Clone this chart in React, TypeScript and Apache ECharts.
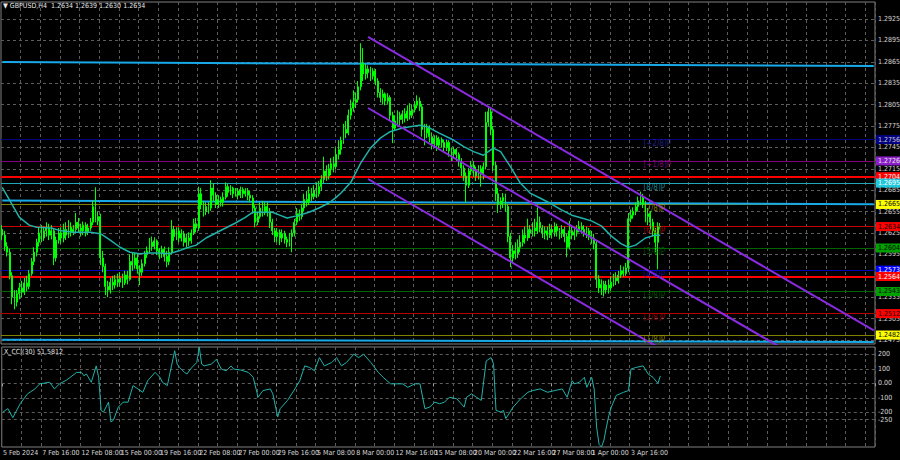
import React, { useEffect, useRef } from "react";
import * as echarts from "echarts";

// ---------- data ----------
const AXIS_SLOTS = 356;
const headerText = "\u25BC GBPUSD,H4  1.2634 1.2639 1.2630 1.2634";
const cciHeader = "X_CCI(30) 51.5812";

// H4 candles: [open, close, low, high] in pips above 1.2000
const candlePips: number[][] = [
  // Feb 5 - Feb 9
  [630,622,615,636],[622,606,600,628],[606,598,592,612],[598,565,560,603],[565,535,525,570],[535,528,518,545],
  [528,540,522,545],[540,548,532,555],[548,542,535,558],[542,555,538,562],[555,550,543,565],[550,568,546,573],
  [568,585,565,590],[585,598,580,605],[598,612,592,617],[612,625,606,632],[625,618,612,636],[618,628,614,634],
  [628,632,620,640],[632,622,615,638],[622,628,616,636],[628,590,580,632],[590,615,585,620],[615,625,610,632],
  [625,618,610,633],[618,630,612,638],[630,622,615,640],[622,633,618,643],[633,626,620,640],[626,630,622,636],
  // Feb 12 - Feb 16
  [630,640,626,653],[640,632,625,646],[632,628,620,638],[628,636,622,641],[636,627,620,640],[627,632,622,638],
  [632,640,628,646],[640,662,636,670],[662,642,640,689],[642,648,636,655],[648,590,580,652],[590,578,570,600],
  [578,550,538,582],[550,545,535,558],[545,556,540,562],[556,552,545,565],[552,560,547,566],[560,556,549,568],
  [556,562,550,570],[562,555,548,568],[555,566,552,572],[566,560,553,572],[560,585,558,595],[585,580,572,598],
  [580,590,575,597],[590,575,568,596],[575,570,552,580],[570,582,565,588],[582,595,578,600],[595,600,590,606],
  // Feb 19 - Feb 23
  [600,612,596,618],[612,606,600,620],[606,614,602,619],[614,600,594,616],[600,596,588,604],[596,602,590,607],
  [602,592,585,606],[592,585,577,600],[585,598,580,605],[598,630,595,643],[630,620,614,635],[620,628,615,633],
  [628,618,612,633],[618,624,613,630],[624,612,606,628],[612,618,605,624],[618,614,607,626],[614,625,610,630],
  [625,638,622,645],[638,632,626,646],[632,680,628,690],[680,665,658,688],[665,655,648,670],[655,662,650,668],
  [662,660,652,668],[660,688,656,699],[688,678,670,695],[678,665,660,682],[665,672,660,678],[672,668,662,676],
  // Feb 26 - Mar 1
  [668,675,662,682],[675,690,672,696],[690,682,676,694],[682,688,678,692],[688,680,674,690],[680,684,676,688],
  [684,678,672,688],[678,686,674,690],[686,680,674,689],[680,684,676,688],[684,678,671,688],[678,674,668,684],
  [674,660,652,678],[660,640,633,664],[640,648,636,655],[648,660,645,668],[660,655,648,670],[655,662,650,668],
  [662,655,648,668],[655,640,632,660],[640,628,622,645],[628,620,612,632],[620,626,612,632],[626,618,608,630],
  [618,624,612,630],[624,616,610,628],[616,612,605,620],[612,620,606,625],[620,625,598,630],[625,640,620,645],
  // Mar 4 - Mar 8
  [640,652,636,660],[652,648,642,658],[648,660,644,666],[660,672,656,680],[672,668,662,684],[668,680,664,690],
  [680,676,670,688],[676,685,672,692],[685,680,674,696],[680,690,676,698],[690,700,684,706],[700,712,695,732],
  [712,705,698,720],[705,715,700,722],[715,722,706,730],[722,718,710,732],[718,735,714,745],[735,742,728,755],
  [742,755,735,760],[755,770,750,778],[770,765,758,782],[765,790,762,798],[790,800,784,812],[800,808,795,825],
  [808,812,800,822],[812,830,808,838],[830,862,825,891],[862,848,838,884],[848,855,840,862],[855,850,842,860],
  // Mar 11 - Mar 15
  [850,845,838,858],[845,852,840,856],[852,838,832,855],[838,822,815,842],[822,815,808,828],[815,820,805,826],
  [820,810,804,822],[810,815,806,821],[815,790,782,818],[790,772,751,795],[772,782,768,790],[782,790,776,797],
  [790,784,776,795],[784,792,778,797],[792,786,780,800],[786,796,782,804],[796,790,784,807],[790,798,786,805],
  [798,804,794,810],[804,810,800,818],[810,802,796,815],[802,770,760,806],[770,765,748,778],[765,772,758,778],
  [772,760,752,776],[760,750,742,766],[750,758,744,762],[758,748,740,762],[748,756,744,760],[756,752,745,759],
  // Mar 18 - Mar 22
  [752,745,738,756],[745,752,740,756],[752,740,732,755],[740,736,726,744],[736,742,730,746],[742,735,726,744],
  [735,725,718,738],[725,716,705,730],[716,705,698,720],[705,692,668,710],[692,712,688,716],[712,720,706,726],
  [720,712,704,726],[712,705,698,718],[705,715,700,720],[715,708,690,720],[708,718,700,724],[718,780,714,795],
  [780,795,775,803],[795,770,762,800],[770,720,712,775],[720,680,670,725],[680,665,653,688],[665,670,658,675],
  [670,675,660,681],[675,662,655,680],[662,620,612,666],[620,590,577,625],[590,600,582,608],[600,596,588,612],
  // Mar 25 - Mar 29
  [596,605,590,616],[605,612,598,622],[612,622,606,630],[622,618,610,634],[618,630,614,645],[630,625,618,636],
  [625,632,620,640],[632,628,620,645],[628,640,624,661],[640,632,626,648],[632,625,618,636],[625,628,616,634],
  [628,622,615,634],[622,630,618,638],[630,626,618,636],[626,634,620,640],[634,628,620,638],[628,624,616,632],
  [624,630,618,636],[630,620,612,634],[620,605,591,624],[605,628,602,642],[628,622,616,636],[622,626,615,632],
  [626,630,620,636],[630,634,626,642],[634,630,624,640],[630,625,620,636],[625,628,618,634],[628,622,615,632],
  // Apr 1 - Apr 5
  [622,618,610,628],[618,610,602,624],[610,560,548,614],[560,548,541,566],[548,553,538,560],[553,545,536,558],
  [545,552,540,558],[552,548,540,560],[548,556,544,564],[556,562,550,568],[562,558,552,570],[558,566,554,572],
  [566,572,562,580],[572,568,564,578],[568,576,565,583],[576,645,570,653],[645,650,640,658],[650,655,645,661],
  [655,662,650,668],[662,670,656,676],[670,676,664,683],[676,665,660,680],[665,648,640,670],[648,652,636,660],
  [652,640,630,656],[640,628,620,645],[628,612,598,632],[612,634,574,640],[634,634,630,639],
];

// moving average: [bar index, pips above 1.2000]
const maPips: number[][] = [
  [0,689],[3,671],[7,647],[11,636],[14,633],[20,632],[24,628],[29,626],[36,626],[40,624],[44,615],
  [48,605],[52,598],[56,596],[60,597],[64,597],[68,596],[72,600],[75,604],[79,608],[83,618],[87,625],
  [91,632],[95,639],[99,647],[102,654],[106,654],[110,654],[113,650],[116,646],[120,649],[125,654],
  [129,660],[133,667],[136,675],[138,681],[142,696],[146,723],[150,744],[154,758],[158,767],[162,771],
  [166,774],[170,776],[173,774],[178,765],[184,755],[188,746],[192,739],[196,734],[198,739],[200,744],
  [203,739],[207,718],[211,695],[215,681],[219,674],[223,667],[228,657],[232,650],[236,646],[240,642],
  [244,635],[248,621],[252,610],[255,605],[258,608],[262,618],[266,622],[268,622],
];

// CCI(30): [bar index, value]
const cciPoints: number[][] = [
  [0,-197],[2,-174],[4,-236],[7,-140],[10,-72],[13,-38],[15,-3],[19,8],[21,-38],[23,-3],[26,24],[30,76],
  [32,76],[33,53],[34,65],[36,8],[38,121],[39,42],[40,-186],[41,-197],[43,-129],[44,-265],[45,-254],
  [47,-163],[49,-129],[51,-129],[53,-15],[55,-38],[57,-61],[59,19],[62,76],[64,42],[65,8],[67,-15],
  [68,65],[70,225],[71,133],[72,110],[74,76],[75,65],[77,110],[79,144],[80,251.0235],[81,133],[82,121],
  [85,133],[87,167],[89,99],[91,87],[93,121],[94,99],[97,92],[100,76],[102,42],[104,-95],[106,-49],
  [109,-38],[110,-72],[112,-231],[113,-174],[116,-117],[119,-38],[121,19],[123,121],[125,110],[127,87],
  [129,178],[131,121],[134,144],[136,178],[138,121],[140,144],[143,201],[145,178],[147,201],[150,144],
  [153,76],[155,42],[158,-3],[161,-3],[163,-3],[165,-27],[168,-3],[170,-3],[172,-174],[174,-163],
  [176,-129],[178,-140],[180,-129],[182,-95],[185,-106],[188,-163],[189,-95],[191,-72],[193,-95],
  [195,-117],[196,19],[197,155],[199,178],[200,133],[201,-186],[203,-197],[204,-186],[205,-242],
  [208,-163],[211,-106],[214,-61],[216,-49],[219,-38],[222,-61],[225,-49],[228,-38],[230,-95],[232,19],
  [233,-3],[235,8],[237,42],[238,-27],[240,42],[241,-38],[242,-300],[243,-420],[244,-438.2098],
  [245,-390],[246,-300],[247,-220],[248,-163],[250,-83],[253,-61],[255,-49],[256,99],[258,110],
  [261,121],[263,65],[265,42],[267,0],[268,51.5812],
];

const priceTicks = [1.2925,1.2895,1.2865,1.2835,1.2805,1.2775,1.2745,1.2715,1.2685,1.2655,1.2625,1.2595,1.2535,1.2505,1.2475];
const cciTicks = [200,100,0,-100,-200,-250];
const cciTop = 251.0235;
const cciBottom = -438.2098;
const dateLabels = ["5 Feb 2024","7 Feb 16:00","12 Feb 08:00","15 Feb 00:00","19 Feb 16:00","22 Feb 08:00","27 Feb 00:00","29 Feb 16:00","5 Mar 08:00","8 Mar 00:00","12 Mar 16:00","15 Mar 08:00","20 Mar 00:00","22 Mar 16:00","27 Mar 08:00","1 Apr 00:00","3 Apr 16:00"];

const levelValues = [1.2756,1.2726,1.2704,1.2695,1.2665,1.2634,1.2604,1.2573,1.2564,1.2543,1.2512,1.2482];
const murreyTags = ["[+2/8]P","[+1/8]P","[8/8]P","[7/8]P","[6/8]P","[5/8]P","[4/8]P","[3/8]P","[2/8]P","[1/8]P"];
const murreyValues = [1.2756,1.2726,1.2695,1.2665,1.2634,1.2604,1.2573,1.2543,1.2512,1.2482];

const trendTop = [[0,1.28647],[355,1.28591]];
const trendMid = [[0,1.26705],[355,1.26652]];
const trendLow = [[0,1.24755],[355,1.24722]];
const channelUpper = [[149,1.28998],[355,1.24884]];
const channelMiddle = [[149,1.28002],[355,1.23889]];
const channelLower = [[149,1.27007],[355,1.22893]];

// ---------- styles ----------
const FONT = '"Liberation Sans Narrow","DejaVu Sans Condensed","Liberation Sans",sans-serif';
const TEXT = "#d8d8d8";
const GRID = "#5c5c5c";
const levelStyles = [
  { line: "#000080", w: 1, box: "#000080", txt: "#d0d0d0" },
  { line: "#800080", w: 1, box: "#8a1ec8", txt: "#e8e8e8" },
  { line: "#ff0000", w: 2, box: "#ff0000", txt: "#ffffff" },
  { line: "#1fa8b8", w: 1, box: "#22c8dc", txt: "#ffffff" },
  { line: "#808000", w: 1, box: "#ffff00", txt: "#000000" },
  { line: "#c80000", w: 1, box: "#ff0000", txt: "#000000" },
  { line: "#006400", w: 1, box: "#00a000", txt: "#000000" },
  { line: "#0000b4", w: 1, box: "#0000ff", txt: "#ffffff" },
  { line: "#ff0000", w: 2, box: "#ff0000", txt: "#ffffff" },
  { line: "#006400", w: 1, box: "#00a000", txt: "#000000" },
  { line: "#b40000", w: 1, box: "#ff0000", txt: "#000000" },
  { line: "#808000", w: 1, box: "#ffff00", txt: "#000000" },
];
const murreyColors = ["#2828a8","#8c108c","#20a0b0","#a89800","#c00000","#006400","#1414c8","#006400","#b00000","#a89800"];
const TAG_BAR = 261;

const price = (p: number) => Math.round((1.2 + p / 10000) * 100000) / 100000;
const cats = Array.from({ length: AXIS_SLOTS }, (_, i) => String(i));
const dateInterval = (i: number) => i % 16 === 0 && i / 16 < dateLabels.length;
const gridInterval = (i: number) => i > 0 && i % 8 === 0;

function buildOption() {
  const lineSeries = (data: number[][], color: string, width: number, z: number) => ({
    type: "line", xAxisIndex: 0, yAxisIndex: 0, data, symbol: "none", silent: true, z,
    lineStyle: { color, width }, clip: true,
  });
  return {
    animation: false,
    backgroundColor: "#000000",
    title: [
      { text: headerText, left: 3, top: 2, padding: 0, textStyle: { color: "#e8e8e8", fontSize: 7, fontWeight: "normal", fontFamily: FONT } },
      { text: cciHeader, left: 4, top: 348, padding: 0, textStyle: { color: "#e0e0e0", fontSize: 7, fontWeight: "normal", fontFamily: FONT } },
    ],
    grid: [
      { left: 1, right: 25, top: 2, height: 342, show: true, borderColor: "#808080", borderWidth: 1 },
      { left: 1, right: 25, top: 347, height: 100, show: true, borderColor: "#808080", borderWidth: 1 },
    ],
    xAxis: [
      {
        type: "category", gridIndex: 0, data: cats, boundaryGap: true,
        axisLine: { show: false }, axisTick: { show: false }, axisLabel: { show: false },
        splitLine: { show: true, interval: gridInterval, lineStyle: { color: GRID, type: [3, 3], width: 1 } },
      },
      {
        type: "category", gridIndex: 1, data: cats, boundaryGap: true,
        axisLine: { show: false },
        axisTick: { show: true, interval: dateInterval, length: 3, lineStyle: { color: "#a0a0a0" } },
        axisLabel: {
          show: true, interval: dateInterval, align: "left", margin: 2,
          formatter: (_v: string, i: number) => dateLabels[i / 16] || "",
          color: TEXT, fontSize: 7, fontFamily: FONT,
        },
        splitLine: { show: true, interval: gridInterval, lineStyle: { color: GRID, type: [3, 3], width: 1 } },
      },
    ],
    yAxis: [
      { type: "value", gridIndex: 0, min: 1.24694, max: 1.29488, show: false, splitLine: { show: false } },
      { type: "value", gridIndex: 1, min: cciBottom, max: cciTop, show: false, splitLine: { show: false } },
    ],
    series: [
      {
        type: "line", xAxisIndex: 0, yAxisIndex: 0, data: [], silent: true,
        markLine: {
          silent: true, z: 1, precision: 6, symbol: ["none", "none"], animation: false,
          lineStyle: { color: GRID, type: [3, 3], width: 1 },
          label: { show: true, position: "end", distance: 3, color: TEXT, fontSize: 7, fontFamily: FONT },
          data: priceTicks.map((v) => ({ yAxis: v, label: { formatter: v.toFixed(4) } })),
        },
      },
      {
        type: "line", xAxisIndex: 0, yAxisIndex: 0, data: [], silent: true,
        markLine: {
          silent: true, z: 3, precision: 6, symbol: ["none", "none"], animation: false,
          data: levelValues.map((v, k) => ({
            yAxis: v,
            lineStyle: { color: levelStyles[k].line, width: levelStyles[k].w, type: "solid" },
            label: {
              show: true, position: "end", distance: 1, formatter: v.toFixed(4),
              color: levelStyles[k].txt, backgroundColor: levelStyles[k].box,
              padding: [1, 2, 0, 2], fontSize: 7, lineHeight: 8, fontFamily: FONT,
            },
          })),
        },
      },
      lineSeries(trendTop, "#17a9e8", 2, 3),
      lineSeries(trendMid, "#17a9e8", 2, 3),
      lineSeries(trendLow, "#17a9e8", 2, 3),
      {
        type: "candlestick", xAxisIndex: 0, yAxisIndex: 0, z: 4, silent: true, barWidth: 1.4,
        data: candlePips.map((r) => r.map(price)),
        itemStyle: { color: "#00b400", color0: "#c8ffc8", borderColor: "#00ff00", borderColor0: "#00ff00", borderWidth: 1 },
      },
      lineSeries(maPips.map(([i, p]) => [i, price(p)]), "#20b2aa", 1.5, 5),
      lineSeries(channelUpper, "#8a2be2", 2, 6),
      lineSeries(channelMiddle, "#8a2be2", 2, 6),
      lineSeries(channelLower, "#8a2be2", 2, 6),
      {
        type: "scatter", xAxisIndex: 0, yAxisIndex: 0, z: 7, silent: true,
        symbol: "circle", symbolSize: 1, itemStyle: { color: "transparent" },
        data: murreyValues.map((v, k) => ({
          value: [TAG_BAR, v],
          label: { show: true, position: "right", distance: 0, offset: [0, 4], formatter: murreyTags[k], color: murreyColors[k], fontSize: 8, fontFamily: FONT },
        })),
      },
      {
        type: "line", xAxisIndex: 1, yAxisIndex: 1, data: [], silent: true,
        markLine: {
          silent: true, z: 1, precision: 6, symbol: ["none", "none"], animation: false,
          lineStyle: { color: GRID, type: [3, 3], width: 1 },
          label: { show: true, position: "end", distance: 3, color: TEXT, fontSize: 7, fontFamily: FONT },
          data: [
            ...cciTicks.map((v) => ({ yAxis: v, label: { formatter: v === 0 ? "0.00" : String(v) } })),
            { yAxis: cciTop, lineStyle: { opacity: 0 }, label: { formatter: cciTop.toFixed(4), distance: 0, fontSize: 6, offset: [-3, 1] } },
            { yAxis: cciBottom, lineStyle: { opacity: 0 }, label: { formatter: cciBottom.toFixed(4), distance: 0, fontSize: 6, offset: [-4, -4] } },
          ],
        },
      },
      {
        type: "line", xAxisIndex: 1, yAxisIndex: 1, z: 5, silent: true,
        data: cciPoints, symbol: "none", lineStyle: { color: "#20b2aa", width: 1 },
      },
    ],
  };
}

export default function App() {
  const ref = useRef<HTMLDivElement>(null);
  useEffect(() => {
    if (!ref.current) return;
    const chart = echarts.init(ref.current, null, { renderer: "svg" });
    chart.setOption(buildOption() as any);
    return () => chart.dispose();
  }, []);
  return <div ref={ref} style={{ position: "fixed", left: 0, top: 0, width: 900, height: 460 }} />;
}
